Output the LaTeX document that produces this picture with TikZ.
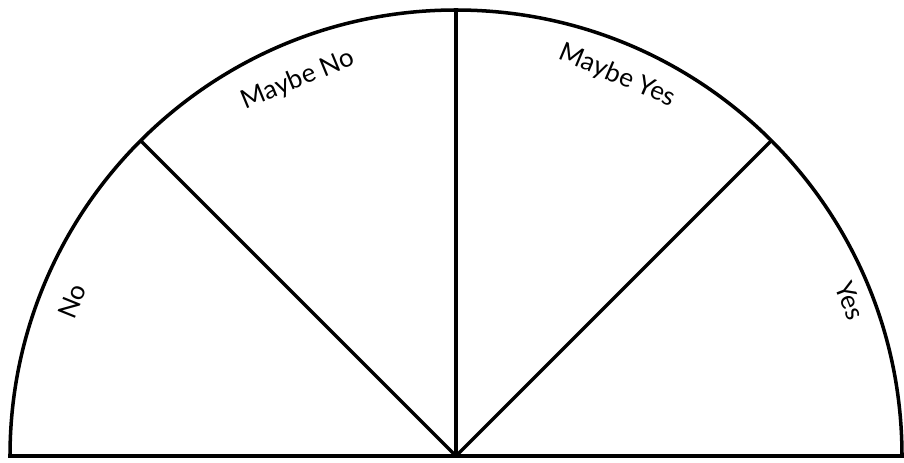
\documentclass[tikz,border=0pt]{standalone}
\usepackage{fontspec}
\setmainfont{Lato}
\begin{document}
\begin{tikzpicture}[x=1cm, y=1cm, line width=1pt]
\tikzset{answer/.style={font=\fontsize{7.4}{9}\selectfont}}
\useasboundingbox (-4.56,-0.06) rectangle (4.48,4.56);

% Half circle
\coordinate (O) at (0,0);
\coordinate (L) at (180:4.46);
\coordinate (R) at (0:4.46);
\draw (L) -- (R) arc (0:180:4.46) -- cycle;

% Dividers
\coordinate (D1) at (135:4.46);
\coordinate (D2) at (90:4.46);
\coordinate (D3) at (45:4.46);
\draw (O) -- (D1);
\draw (O) -- (D2);
\draw (O) -- (D3);

% Labels
\node[answer, rotate=68] (no) at (158:4.14) {No};
\node[answer, rotate=22.5] (maybeno) at (112.8:4.08) {Maybe No};
\node[answer, rotate=-23] (maybeyes) at (67:4.13) {Maybe Yes};
\node[answer, rotate=-68.5] (yes) at (21.5:4.24) {Yes};

\end{tikzpicture}
\end{document}
